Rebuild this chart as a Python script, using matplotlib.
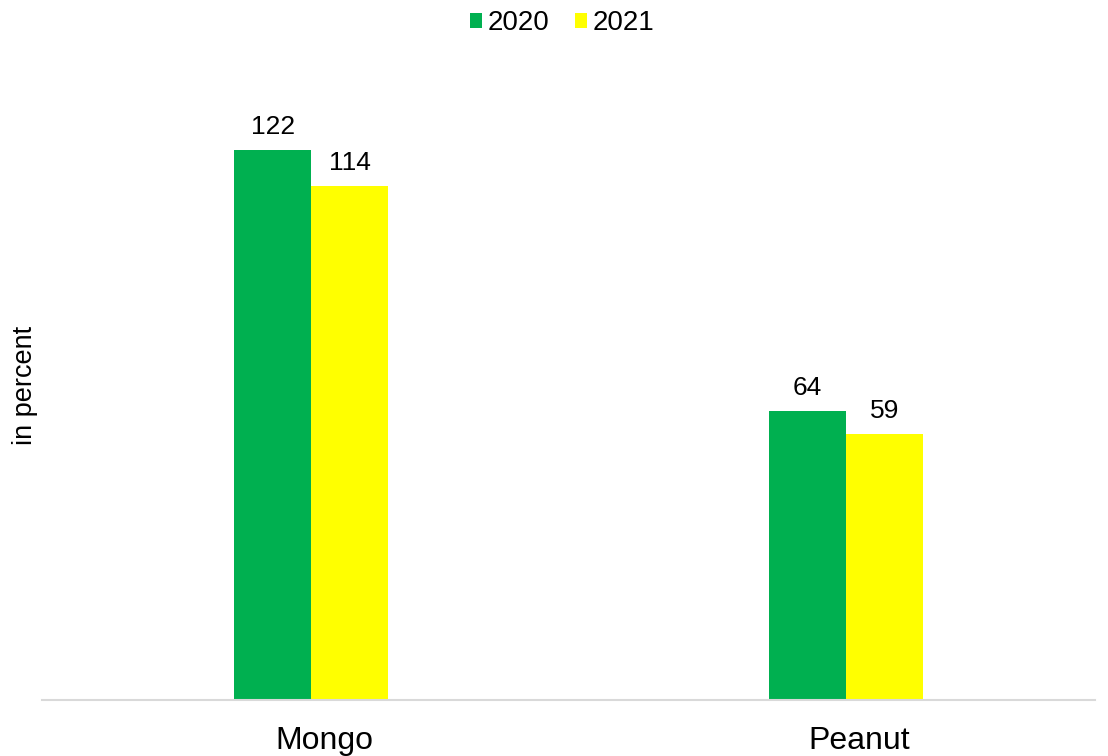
import numpy as np
import matplotlib.pyplot as plt

plt.rcParams['font.family'] = ['Liberation Sans', 'DejaVu Sans']

crops = ['Mongo', 'Peanut']
years = ['2020', '2021']
vals_2020 = [122, 64]
vals_2021 = [114, 59]
colors = ['#00b050', '#ffff00']

W, H = 1108, 756
fig = plt.figure(figsize=(W / 100, H / 100), dpi=100)
ax = fig.add_axes([42 / W, 1 - 700 / H, (1095 - 42) / W, (700 - 60) / H])

x = np.arange(len(crops))
bw = 0.144
b1 = ax.bar(x - bw / 2, vals_2020, bw, color=colors[0], label=years[0])
b2 = ax.bar(x + bw / 2, vals_2021, bw, color=colors[1], label=years[1])
for bars in (b1, b2):
    ax.bar_label(bars, padding=8, fontsize=19)

ax.set_xlim(-0.503, 1.465)
ax.set_ylim(0, 640 / 4.508)
ax.set_xticks(x + 0.024)
ax.set_xticklabels(crops, fontsize=23)
ax.tick_params(axis='x', length=0, pad=19)
ax.set_yticks([])
for s in ['top', 'right', 'left']:
    ax.spines[s].set_visible(False)
ax.spines['bottom'].set_color('#d9d9d9')
ax.spines['bottom'].set_linewidth(1.5)

fig.text(25 / W, 1 - 385 / H, 'in percent', rotation=90, fontsize=19.5,
         ha='center', va='center')
fig.legend(loc='center', bbox_to_anchor=(562 / W, 1 - 23 / H), ncol=2,
           frameon=False, fontsize=20, handlelength=0.45, handleheight=0.45,
           handletextpad=0.2, columnspacing=0.9)

fig.savefig('out.png', dpi=100)
